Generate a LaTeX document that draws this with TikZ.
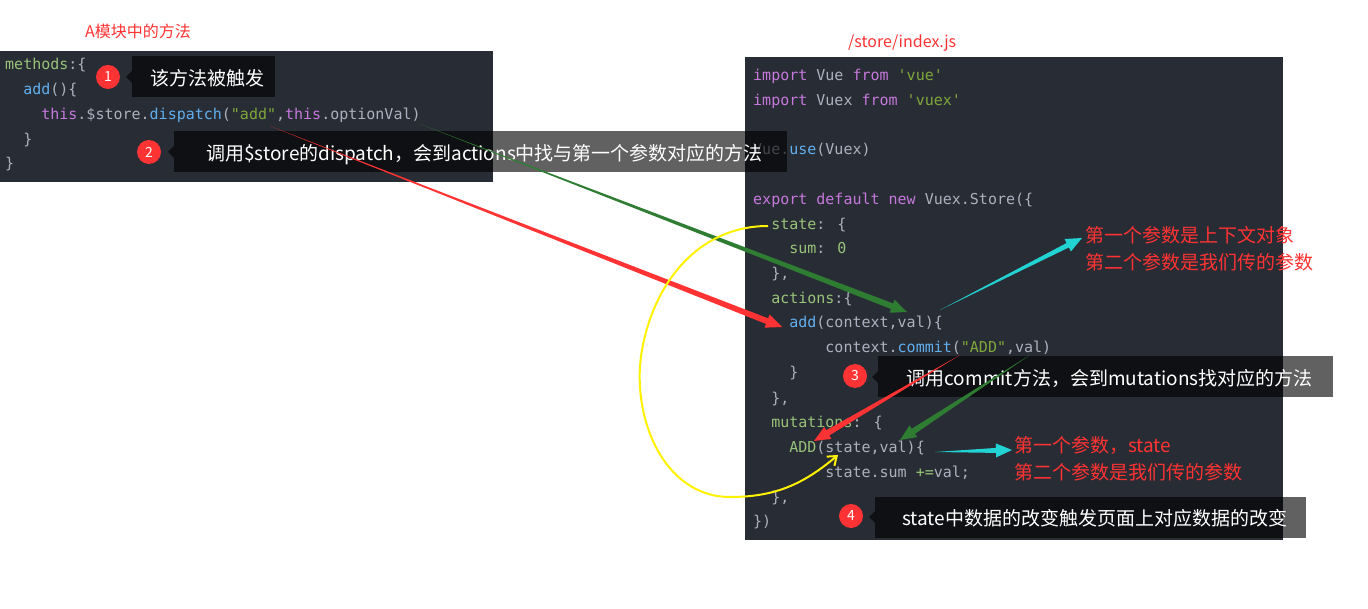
\documentclass[tikz,border=0pt]{standalone}
\usepackage{fontspec}
\setmainfont{Noto Sans CJK SC}
\newfontfamily\codefont{DejaVu Sans Mono}
\usetikzlibrary{calc,arrows.meta}
\definecolor{bgc}{HTML}{282C34}
\definecolor{cgray}{HTML}{ABB2BF}
\definecolor{cpur}{HTML}{C678DD}
\definecolor{cblue}{HTML}{61AFEF}
\definecolor{ckey}{HTML}{98C379}
\definecolor{cstr}{HTML}{7FA83A}
\definecolor{rednote}{HTML}{FF3333}
\definecolor{agreen}{HTML}{2E7D32}
\definecolor{acyan}{HTML}{22D3D3}
\newcommand\cG[1]{\textcolor{cgray}{#1}}
\newcommand\cP[1]{\textcolor{cpur}{#1}}
\newcommand\cB[1]{\textcolor{cblue}{#1}}
\newcommand\cK[1]{\textcolor{ckey}{#1}}
\newcommand\cS[1]{\textcolor{cstr}{#1}}
\newcommand\taparrow[5]{% color, start, end, halfshaft, name
  \coordinate (#5H) at ($(#3)!16pt!(#2)$);
  \fill[#1] (#2) -- ($(#5H)!#4!90:(#3)$) -- ($(#5H)!7pt!90:(#3)$) -- (#3)
    -- ($(#5H)!7pt!-90:(#3)$) -- ($(#5H)!#4!-90:(#3)$) -- cycle;}
\begin{document}
\begin{tikzpicture}[x=1pt,y=-1pt,
  code/.style={anchor=base west,inner sep=0,font=\codefont\fontsize{15}{15}\selectfont},
  callout/.style={fill=black,fill opacity=0.62,text opacity=1,text=white,inner sep=0,anchor=west,
     font=\fontsize{19}{19}\selectfont,minimum height=41pt,text depth=0pt},
  num/.style={circle,fill=rednote,text=white,inner sep=0,minimum size=24pt,font=\fontsize{14}{14}\selectfont},
  note/.style={text=rednote,anchor=base west,inner sep=0,font=\fontsize{19}{19}\selectfont}]
\useasboundingbox (0,0) rectangle (1368,609);
\fill[white] (0,0) rectangle (1368,609);
% panels
\fill[bgc] (0,51) rectangle (493,182);
\fill[bgc] (745,57) rectangle (1283,540);
\node[note,font=\fontsize{16}{16}\selectfont] (tA) at (85,38) {A模块中的方法};
\node[note,font=\fontsize{16}{16}\selectfont] (tB) at (848,48) {/store/index.js};
% left code
\node[code] (l1) at (5,70) {\cK{methods}\cG{:\{}};
\node[code] (l2) at (5,95) {\cG{\ \ }\cB{add}\cG{()\{}};
\node[code] (l3) at (5,120) {\cG{\ \ \ \ }\cP{this}\cG{.\$store.}\cB{dispatch}\cG{(}\cS{"add"}\cG{,}\cP{this}\cG{.optionVal)}};
\node[code] (l4) at (5,145) {\cG{\ \ \}}};
\node[code] (l5) at (5,169) {\cG{\}}};
% right code
\foreach \y/\t [count=\i] in {
 81/{\cP{import} \cG{Vue} \cP{from} \cS{'vue'}},
 106/{\cP{import} \cG{Vuex} \cP{from} \cS{'vuex'}},
 155/{\cG{Vue.}\cB{use}\cG{(Vuex)}},
 205/{\cP{export} \cP{default} \cP{new} \cG{Vuex.Store(\{}},
 230/{\cG{\ \ }\cK{state}\cG{: \{}},
 254/{\cG{\ \ \ \ }\cK{sum}\cG{: }\cK{0}},
 279/{\cG{\ \ \},}},
 304/{\cG{\ \ }\cK{actions}\cG{:\{}},
 328/{\cG{\ \ \ \ }\cB{add}\cG{(context,val)\{}},
 353/{\cG{\ \ \ \ \ \ \ \ context.}\cB{commit}\cG{(}\cS{"ADD"}\cG{,val)}},
 378/{\cG{\ \ \ \ \}}},
 403/{\cG{\ \ \},}},
 427/{\cG{\ \ }\cK{mutations}\cG{: \{}},
 452/{\cG{\ \ \ \ }\cK{ADD}\cG{(state,val)\{}},
 477/{\cG{\ \ \ \ \ \ \ \ state.sum }\cK{+=}\cG{ val;}},
 502/{\cG{\ \ \},}},
 526/{\cG{\})}}}
 \node[code] (r\i) at (753,\y) {\t};
% callouts
\node[callout,minimum width=143pt] (c1) at (132,77) {\hspace{8pt}该方法被触发\hspace{8pt}};
\fill[black,opacity=0.62] (c1.west) ++(0,-6) -- ++(-6,6) -- ++(6,6) -- cycle;
\node[num] (n1) at (108,77) {1};
\node[callout,minimum width=613pt] (c2) at (174,152) {\hspace{8pt}调用\$store的dispatch，会到actions中找与第一个参数对应的方法\hspace{8pt}};
\fill[black,opacity=0.62] (c2.west) ++(0,-6) -- ++(-6,6) -- ++(6,6) -- cycle;
\node[num] (n2) at (149,152) {2};
\node[callout,minimum width=455pt] (c3) at (878,377) {\hspace{8pt}调用commit方法，会到mutations找对应的方法\hspace{8pt}};
\fill[black,opacity=0.62] (c3.west) ++(0,-6) -- ++(-6,6) -- ++(6,6) -- cycle;
\node[num] (n3) at (855,376) {3};
\node[callout,minimum width=431pt] (c4) at (875,517) {\hspace{8pt}state中数据的改变触发页面上对应数据的改变\hspace{8pt}};
\fill[black,opacity=0.62] (c4.west) ++(0,-6) -- ++(-6,6) -- ++(6,6) -- cycle;
\node[num] (n4) at (851,516) {4};
% notes
\node[note] (m1) at (1085,243) {第一个参数是上下文对象};
\node[note] (m2) at (1085,270) {第二个参数是我们传的参数};
\node[note] (m3) at (1014,452) {第一个参数，state};
\node[note] (m4) at (1014,479) {第二个参数是我们传的参数};
% arrows
\coordinate (a1s) at (270,126); \coordinate (a1e) at (782,327);
\taparrow{rednote}{a1s}{a1e}{3pt}{a1}
\coordinate (a2s) at (420,124); \coordinate (a2e) at (907,312);
\taparrow{agreen}{a2s}{a2e}{3pt}{a2}
\coordinate (a3s) at (940,310); \coordinate (a3e) at (1082,238);
\taparrow{acyan}{a3s}{a3e}{2.5pt}{a3}
\coordinate (a4s) at (960,355); \coordinate (a4e) at (814,441);
\taparrow{rednote}{a4s}{a4e}{3pt}{a4}
\coordinate (a5s) at (1030,355); \coordinate (a5e) at (900,440);
\taparrow{agreen}{a5s}{a5e}{3pt}{a5}
\coordinate (a6s) at (935,452); \coordinate (a6e) at (1012,450);
\taparrow{acyan}{a6s}{a6e}{2.5pt}{a6}
% yellow
\coordinate (y0) at (768,226); \coordinate (y1) at (642,350);
\coordinate (y2) at (730,497); \coordinate (y3) at (838,455);
\draw[yellow,line width=2pt,-{Straight Barb[length=8pt,width=12pt]}] (y0) to[out=180,in=80] (y1)
  to[out=-100,in=180] (y2) to[out=0,in=-140] (y3);
\end{tikzpicture}
\end{document}
